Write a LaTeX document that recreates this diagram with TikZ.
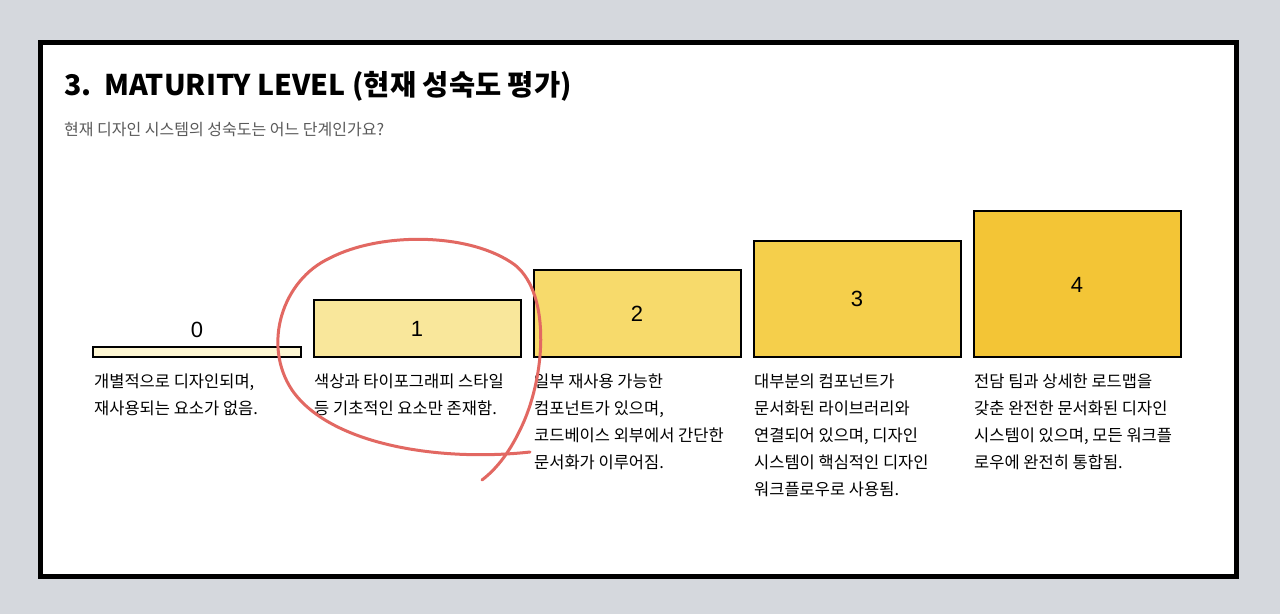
\documentclass[tikz,border=0pt]{standalone}
\usepackage{fontspec}
\setmainfont{Noto Sans CJK KR}
\newfontfamily\numfont{Liberation Sans}
\begin{document}
\begin{tikzpicture}[x=1pt,y=-1pt,
 bar/.style={draw=black,line width=2pt},
 num/.style={font=\numfont\fontsize{22}{22}\selectfont},
 desc/.style={anchor=north west,align=left,font=\fontsize{16.5}{27}\selectfont,inner sep=0pt}]
\useasboundingbox (0,0) rectangle (1280,614);
\fill[fill={rgb,255:red,213;green,216;blue,221}] (0,0) rectangle (1280,614);
\draw[fill=white,line width=5pt] (40,42) rectangle (1236,576);
\node[anchor=west,inner sep=0pt,font=\bfseries\fontsize{28.5}{30}\selectfont] (t) at (64,86) {3.\ \ MATURITY LEVEL (현재 성숙도 평가)};
\node[anchor=west,inner sep=0pt,text={rgb,255:red,90;green,90;blue,90},font=\fontsize{16}{18}\selectfont] (s) at (64,130) {현재 디자인 시스템의 성숙도는 어느 단계인가요?};
\definecolor{c0}{HTML}{FDF6D2}\definecolor{c1}{HTML}{F9E79B}\definecolor{c2}{HTML}{F7DA6B}
\definecolor{c3}{HTML}{F5CF4B}\definecolor{c4}{HTML}{F3C536}
\draw[bar,fill=c0] (93,347) rectangle (301,357);
\node[num] (n0) at (197,330) {0};
\draw[bar,fill=c1] (314,300) rectangle (521,357);
\node[num] (n1) at (417,329) {1};
\draw[bar,fill=c2] (534,270) rectangle (741,357);
\node[num] (n2) at (637,314) {2};
\draw[bar,fill=c3] (754,241) rectangle (961,357);
\node[num] (n3) at (857,299) {3};
\draw[bar,fill=c4] (974,211) rectangle (1181,357);
\node[num] (n4) at (1077,285) {4};
\node[desc] (d0) at (94,374) {개별적으로 디자인되며,\\재사용되는 요소가 없음.};
\node[desc] (d1) at (314,374) {색상과 타이포그래피 스타일\\등 기초적인 요소만 존재함.};
\node[desc] (d2) at (534,374) {일부 재사용 가능한\\컴포넌트가 있으며,\\코드베이스 외부에서 간단한\\문서화가 이루어짐.};
\node[desc] (d3) at (754,374) {대부분의 컴포넌트가\\문서화된 라이브러리와\\연결되어 있으며, 디자인\\시스템이 핵심적인 디자인\\워크플로우로 사용됨.};
\node[desc] (d4) at (974,374) {전담 팀과 상세한 로드맵을\\갖춘 완전한 문서화된 디자인\\시스템이 있으며, 모든 워크플\\로우에 완전히 통합됨.};
\draw[draw={rgb,255:red,226;green,104;blue,98},line width=3pt,line cap=round]
 (530,452) .. controls (440,462) and (330,445) .. (292,390)
 .. controls (262,345) and (282,280) .. (330,258)
 .. controls (380,232) and (470,232) .. (515,265)
 .. controls (552,295) and (545,380) .. (520,430)
 .. controls (508,455) and (495,470) .. (482,480);
\end{tikzpicture}
\end{document}
